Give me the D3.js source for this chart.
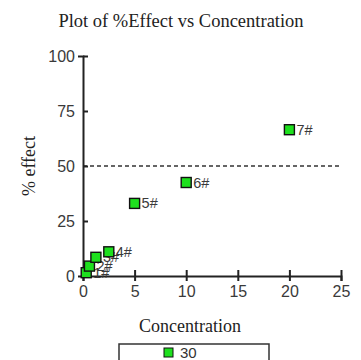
<!DOCTYPE html>
<html>
<head>
<meta charset="utf-8">
<script src="https://cdn.jsdelivr.net/npm/d3@7"></script>
<style>
  body { margin: 0; background: #fff; }
  .tick text { font-family: "Liberation Sans", Arial, sans-serif; font-size: 16px; }
  .serif { font-family: "Liberation Serif", "Times New Roman", serif; fill: #222; }
</style>
</head>
<body>
<div id="chart"></div>
<script>
const concentrations = [0.3125, 0.625, 1.25, 2.5, 5, 10, 20];
const effects = [1.5, 4.5, 8.5, 11, 33, 42.5, 66.5];
const pointLabels = ['1#', '2#', '3#', '4#', '5#', '6#', '7#'];
const xTicks = [0, 5, 10, 15, 20, 25];
const yTicks = [0, 25, 50, 75, 100];
const threshold = 50;
const legendLabel = '30';

const svg = d3.select('#chart').append('svg')
    .attr('width', 361)
    .attr('height', 360);

const x = d3.scaleLinear().domain([0, 25]).range([83, 341]);
const y = d3.scaleLinear().domain([0, 100]).range([276, 56]);

svg.append('text')
    .attr('class', 'serif')
    .attr('x', 181)
    .attr('y', 27)
    .attr('text-anchor', 'middle')
    .style('font-size', '18.5px')
    .text('Plot of %Effect vs Concentration');

// dashed line at 50
svg.append('line')
    .attr('x1', x(0)).attr('x2', x(25))
    .attr('y1', y(threshold)).attr('y2', y(threshold))
    .attr('stroke', '#333')
    .attr('stroke-width', 1.3)
    .attr('stroke-dasharray', '4,3');

const yAxis = svg.append('g')
    .attr('transform', `translate(${x(0)},0)`)
    .call(d3.axisLeft(y).tickValues(yTicks).tickSize(5).tickPadding(3));
yAxis.selectAll('.tick line').attr('x2', 5);

const xAxis = svg.append('g')
    .attr('transform', `translate(0,${y(0)})`)
    .call(d3.axisBottom(x).tickValues(xTicks).tickSize(5).tickPadding(5));
xAxis.selectAll('.tick line').attr('y2', 5).attr('y1', -6);

[yAxis, xAxis].forEach(ax => {
    ax.select('.domain').attr('stroke', '#222').attr('stroke-width', 2);
    ax.selectAll('.tick line').attr('stroke', '#222').attr('stroke-width', 2);
    ax.selectAll('.tick text').attr('fill', '#3a3a3a');
});

svg.append('text')
    .attr('class', 'serif')
    .attr('transform', `translate(35,${y(50)}) rotate(-90)`)
    .attr('text-anchor', 'middle')
    .style('font-size', '18px')
    .text('% effect');

svg.append('text')
    .attr('class', 'serif')
    .attr('x', 190)
    .attr('y', 332)
    .attr('text-anchor', 'middle')
    .style('font-size', '18px')
    .text('Concentration');

const pts = concentrations.map((c, i) => ({c, e: effects[i], label: pointLabels[i]}));

svg.append('g').selectAll('text')
    .data(pts)
    .join('text')
    .attr('x', d => x(d.c) + 7)
    .attr('y', d => y(d.e) + 5)
    .style('font-family', '"Liberation Sans", Arial, sans-serif')
    .style('font-size', '14.5px')
    .attr('fill', '#3a3a3a')
    .text(d => d.label);

svg.append('g').selectAll('rect')
    .data(pts)
    .join('rect')
    .attr('x', d => x(d.c) - 5)
    .attr('y', d => y(d.e) - 5)
    .attr('width', 10)
    .attr('height', 10)
    .attr('fill', '#1ee01e')
    .attr('stroke', '#111')
    .attr('stroke-width', 1.4);

// legend
const legend = svg.append('g');
legend.append('rect')
    .attr('x', 119).attr('y', 344)
    .attr('width', 150).attr('height', 22)
    .attr('fill', '#fff')
    .attr('stroke', '#333')
    .attr('stroke-width', 1.5);
legend.append('rect')
    .attr('x', 164).attr('y', 348)
    .attr('width', 9).attr('height', 9)
    .attr('fill', '#1ee01e')
    .attr('stroke', '#111');
legend.append('text')
    .attr('x', 180).attr('y', 358)
    .style('font-family', '"Liberation Sans", Arial, sans-serif')
    .style('font-size', '15px')
    .attr('fill', '#333')
    .text(legendLabel);
</script>
</body>
</html>
